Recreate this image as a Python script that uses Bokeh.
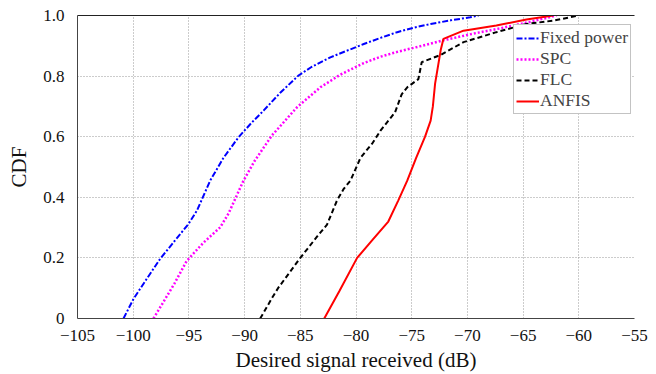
from bokeh.plotting import figure
from bokeh.models import Range1d, FixedTicker, LinearAxis, Legend
from bokeh.embed import file_html
from bokeh.resources import INLINE

# ---- data ----
fixed_x = [-100.87, -99.97, -98.8, -97.58, -96.3, -95.04, -94.28, -93.09, -91.9, -90.55,
           -89.4, -88.3, -86.8, -85.16, -84.0, -82.3, -80.8, -79.3, -77.8, -76.3,
           -74.8, -73.3, -71.5, -69.75, -69.0]
fixed_y = [0.0, 0.065, 0.13, 0.197, 0.255, 0.312, 0.356, 0.455, 0.53, 0.598,
           0.645, 0.686, 0.745, 0.802, 0.83, 0.862, 0.884, 0.906, 0.926, 0.945,
           0.96, 0.972, 0.984, 0.994, 1.0]

spc_x = [-98.18, -97.2, -96.3, -95.2, -93.7, -92.19, -91.45, -90.1, -89.1,
         -87.55, -85.3, -83.2, -81.4, -79.3, -77.8, -76.3, -74.3, -72.3, -69.5, -67.0,
         -64.5, -62.0]
spc_y = [0.0, 0.06, 0.115, 0.19, 0.25, 0.301, 0.346, 0.455, 0.52,
         0.604, 0.697, 0.763, 0.805, 0.843, 0.864, 0.88, 0.898, 0.917, 0.94, 0.958,
         0.978, 1.0]

flc_x = [-88.6, -87.5, -87.0, -86.0, -85.0, -83.5, -82.6, -81.7, -81.1, -80.5, -79.6,
         -78.5, -77.8, -76.5, -75.9, -75.4, -74.4, -74.1, -72.4, -70.35, -67.4, -64.7,
         -62.3, -60.0]
flc_y = [0.0, 0.07, 0.10, 0.15, 0.20, 0.27, 0.31, 0.39, 0.428, 0.455, 0.53,
         0.58, 0.62, 0.68, 0.74, 0.763, 0.79, 0.846, 0.87, 0.912, 0.945, 0.972,
         0.983, 1.0]

anfis_x = [-82.85, -81.5, -79.9, -78.5, -77.1, -76.2, -75.4, -74.6, -73.8, -73.3,
           -73.1, -72.9, -72.4, -72.15, -70.35, -67.4, -64.7, -62.3]
anfis_y = [0.0, 0.09, 0.20, 0.26, 0.32, 0.39, 0.455, 0.53, 0.60, 0.653,
           0.70, 0.775, 0.885, 0.923, 0.95, 0.967, 0.987, 1.0]

series_names = ["Fixed power", "SPC", "FLC", "ANFIS"]

x_ticks = [-105, -100, -95, -90, -85, -80, -75, -70, -65, -60, -55]
x_tick_labels = ["\u2212105", "\u2212100", "\u221295", "\u221290", "\u221285", "\u221280",
                 "\u221275", "\u221270", "\u221265", "\u221260", "\u221255"]
y_ticks = [0, 0.2, 0.4, 0.6, 0.8, 1.0]
y_tick_labels = ["0", "0.2", "0.4", "0.6", "0.8", "1.0"]

FONT = "Liberation Serif"

p = figure(width=656, height=374, output_backend="svg", toolbar_location=None,
           x_range=Range1d(-105, -55), y_range=Range1d(0, 1),
           min_border_left=77, min_border_right=22, min_border_top=15, min_border_bottom=56)
p.outline_line_color = None
p.background_fill_color = "white"
p.border_fill_color = "white"

l1 = p.line(fixed_x, fixed_y, line_color="#0000ff", line_width=2, line_dash="6 2 2 2")
l2 = p.line(spc_x, spc_y, line_color="#ff00ff", line_width=2.5, line_dash="2 2")
l3 = p.line(flc_x, flc_y, line_color="#000000", line_width=2, line_dash="5 3")
l4 = p.line(anfis_x, anfis_y, line_color="#ff0000", line_width=2)

for ax, ticks, labels in ((p.xaxis[0], x_ticks, x_tick_labels), (p.yaxis[0], y_ticks, y_tick_labels)):
    ax.ticker = FixedTicker(ticks=ticks)
    ax.major_label_overrides = {t: s for t, s in zip(ticks, labels)}
    ax.major_label_text_font = FONT
    ax.major_label_text_font_size = "17px"
    ax.major_label_text_color = "#111111"
    ax.axis_label_text_font = FONT
    ax.axis_label_text_font_size = "21px"
    ax.axis_label_text_font_style = "normal"
    ax.axis_label_text_color = "#111111"
    ax.major_tick_line_color = None
    ax.minor_tick_line_color = None
    ax.axis_line_color = "#444444"

p.xaxis.axis_label = "Desired signal received (dB)"
p.yaxis.axis_label = "CDF"
p.xaxis.major_label_standoff = 5
p.xaxis.axis_label_standoff = 4
p.yaxis.major_label_standoff = 7
p.yaxis.axis_label_standoff = 9

top = LinearAxis(major_label_text_font_size="0px", major_tick_line_color=None,
                 minor_tick_line_color=None, axis_line_color="#222222",
                 major_label_standoff=0, ticker=FixedTicker(ticks=[]))
p.add_layout(top, "above")

p.xgrid.grid_line_color = "#999999"
p.xgrid.grid_line_dash = "1 2"
p.ygrid.grid_line_color = "#999999"
p.ygrid.grid_line_dash = "1 2"

legend = Legend(items=[(series_names[0], [l1]), (series_names[1], [l2]),
                       (series_names[2], [l3]), (series_names[3], [l4])],
                location=(436, 204), margin=0, padding=2, spacing=0,
                label_height=18, glyph_height=18, glyph_width=23, label_standoff=1,
                label_text_font=FONT, label_text_font_size="17.5px",
                border_line_color="#888888", border_line_width=1,
                background_fill_color="white", background_fill_alpha=1.0)
p.add_layout(legend, "center")

open("out.html", "w").write(file_html(p, INLINE))
